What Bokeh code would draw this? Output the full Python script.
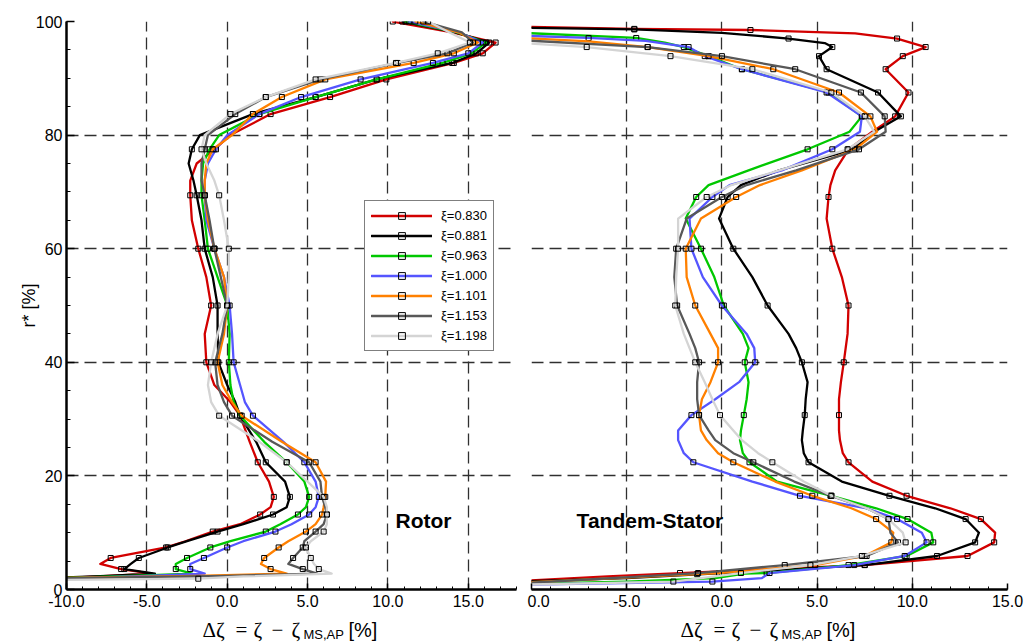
from bokeh.plotting import figure
from bokeh.layouts import row, column
from bokeh.models import FixedTicker, Label, Legend, LegendItem, Range1d
from bokeh.core.properties import value
from bokeh.embed import file_html
from bokeh.resources import INLINE

# ---------------- data ----------------
SERIES = ["ξ=0.830", "ξ=0.881", "ξ=0.963", "ξ=1.000", "ξ=1.101", "ξ=1.153", "ξ=1.198"]

# Rotor: common radial levels r* [%] and measured-point flags
ROT_R = [100, 98.1, 96.3, 94.4, 92.7, 89.8, 86.7, 83.7, 80, 77.5, 75, 72, 69.4, 65, 60, 55, 50, 45,
         40, 36, 33, 30.6, 26, 22.4, 19, 16.3, 14.5, 13.2, 11.5, 10.2, 8.5, 7.4, 5.55, 4.5, 3.6, 2.8]
ROT_M = [1, 0, 1, 1, 1, 1, 1, 1, 0, 1, 0, 0, 1, 0, 1, 0, 1, 0,
         1, 0, 0, 1, 0, 1, 0, 1, 0, 1, 0, 1, 0, 1, 1, 0, 1, 0]

rot_830 = [10.3, 14.0, 16.7, 15.9, 14.1, 9.9, 6.4, 2.7, 0.2, -0.8, -1.9, -2.3, -2.3, -2.2, -1.8, -1.3, -1.0, -1.4,
           -1.3, -0.8, 0.2, 0.8, 1.4, 1.9, 2.6, 2.9, 2.7, 2.05, 0.8, -0.9, -2.6, -3.8, -7.25, -7.9, -6.6, -4.7]
rot_881 = [10.9, 14.2, 16.3, 15.5, 14.0, 9.3, 5.5, 1.6, -1.7, -2.2, -2.4, -2.1, -1.9, -1.6, -1.4, -0.9, -0.6, -0.6,
           -0.55, 0.0, 0.5, 0.8, 1.8, 2.4, 3.6, 3.9, 3.7, 2.85, 1.0, -0.6, -2.5, -3.7, -5.5, -6.0, -6.4, -4.5]
rot_963 = [11.1, 14.3, 16.1, 15.2, 13.4, 9.3, 5.5, 2.0, -0.5, -1.1, -1.5, -1.6, -1.6, -1.4, -1.2, -0.6, 0.0, 0.15,
           0.1, 0.2, 0.4, 0.8, 2.3, 3.7, 4.8, 5.1, 4.9, 4.4, 3.3, 2.4, 0.2, -1.05, -2.5, -3.2, -3.2, -2.2]
rot_1000 = [11.3, 14.4, 15.9, 15.0, 12.8, 8.3, 4.6, 2.0, 0.0, -0.7, -1.2, -1.4, -1.4, -1.3, -0.8, -0.2, 0.15, 0.3,
            0.4, 0.8, 1.1, 1.6, 3.5, 4.8, 5.5, 5.7, 5.5, 5.1, 4.0, 3.0, 1.0, 0.0, -1.45, -2.3, -2.3, -1.4]
rot_1101 = [11.7, 14.4, 15.6, 14.1, 11.6, 6.1, 3.4, 1.6, 0.3, -0.9, -1.3, -1.4, -1.4, -1.2, -0.8, -0.2, 0.0, -0.2,
            -0.6, -0.3, 0.3, 0.9, 3.4, 5.5, 6.15, 6.1, 6.0, 5.9, 5.5, 4.9, 3.8, 3.2, 2.3, 2.1, 2.7, 3.7]
rot_1153 = [12.2, 14.6, 15.3, 13.7, 10.6, 5.8, 2.4, 0.5, -1.2, -1.4, -1.6, -1.6, -1.4, -1.1, -0.8, -0.4, 0.0, -0.3,
            -0.75, -0.6, -0.2, 0.3, 2.8, 5.1, 5.8, 5.9, 6.1, 6.2, 6.0, 5.5, 4.8, 4.7, 4.1, 3.8, 4.7, 5.6]
rot_1198 = [12.5, 13.8, 15.1, 13.1, 10.5, 5.5, 2.4, 0.2, -1.4, -1.6, -1.3, -0.8, -0.5, -0.2, 0.1, 0.1, 0.0, -0.6,
            -1.0, -1.2, -1.0, -0.5, 2.0, 3.7, 5.0, 6.0, 6.2, 6.2, 6.2, 6.0, 5.2, 4.9, 5.2, 5.4, 5.7, 6.5]
# hub end of each rotor curve: (r*, dzeta, measured)
rot_830_tail = [(2.3, -8.0, 0), (2.0, -10.5, 0)]
rot_881_tail = [(2.4, -7.5, 0), (2.1, -10.5, 0)]
rot_963_tail = [(2.4, -6.0, 0), (2.0, -10.5, 0)]
rot_1000_tail = [(2.4, -5.0, 0), (1.9, -10.5, 0)]
rot_1101_tail = [(2.4, -2.0, 0), (2.0, -10.5, 0)]
rot_1153_tail = [(2.4, 0.0, 0), (2.0, -10.5, 0)]
rot_1198_tail = [(2.3, 1.0, 0), (1.9, -1.8, 1), (1.7, -10.5, 0)]

# Tandem stator
ST_R = [95.5, 93.9, 91.6, 87.5, 83.3, 80.6, 77.5, 73.8, 71.2, 69.1, 65.3, 60, 55, 50, 45, 42.5, 40,
        36.5, 33.5, 30.7, 28, 26.3, 24, 22.4, 19, 16.5, 14.3, 12.4, 10, 8.3, 5.9, 4.3, 2.9]
ST_M = [1, 1, 1, 1, 1, 0, 1, 0, 0, 1, 0, 1, 0, 1, 0, 0, 1,
        0, 0, 1, 0, 0, 0, 1, 0, 1, 0, 1, 0, 1, 1, 1, 1]

st_830 = [10.7, 9.5, 8.6, 9.8, 9.1, 7.9, 6.65, 5.95, 5.7, 5.6, 5.5, 5.8, 6.3, 6.65, 6.6, 6.5, 6.4,
          6.25, 6.15, 6.15, 6.15, 6.2, 6.35, 6.65, 7.9, 9.7, 12.0, 13.6, 14.35, 14.3, 12.9, 7.5, -2.2]
st_881 = [5.8, 5.1, 5.5, 8.2, 9.4, 8.0, 6.9, 3.0, 1.0, 0.3, -0.15, 0.6, 1.6, 2.4, 3.5, 3.9, 4.2,
          4.5, 4.4, 4.35, 4.25, 4.2, 4.3, 4.55, 6.3, 8.8, 11.2, 12.8, 13.5, 13.3, 11.3, 7.5, 0.0]
st_963 = [-2.0, -0.7, 1.05, 5.6, 7.35, 6.7, 4.5, 1.4, -0.7, -1.35, -1.9, -1.1, -0.4, 0.1, 1.1, 1.4, 1.2,
          1.4, 1.3, 1.15, 1.0, 0.95, 1.1, 1.45, 2.9, 5.75, 8.1, 9.75, 11.0, 11.1, 9.7, 6.65, 2.35]
st_1000 = [-1.75, -0.9, 1.05, 5.5, 7.35, 7.25, 5.8, 3.15, 0.4, -0.5, -1.7, -1.6, -1.0, 0.0, 1.3, 1.7, 1.75,
           0.9, -0.35, -1.6, -2.3, -2.3, -2.0, -1.5, 1.6, 4.1, 7.6, 9.2, 10.5, 10.75, 9.6, 6.95, 2.5]
st_1101 = [-3.9, -0.7, 2.7, 6.15, 7.8, 8.15, 7.0, 4.2, 2.0, 0.75, -1.1, -1.9, -1.85, -1.4, -0.6, -0.2, -0.2,
           -0.6, -1.05, -1.2, -1.1, -0.8, -0.2, 0.6, 2.8, 4.75, 6.8, 8.1, 9.0, 8.9, 7.5, 4.9, -0.15]
st_1153 = [-3.9, 0.0, 3.85, 7.3, 8.55, 8.6, 7.2, 3.9, 1.3, 0.0, -1.85, -2.4, -2.5, -2.35, -1.7, -1.4, -1.2,
           -1.3, -1.3, -1.2, -0.7, -0.35, 0.6, 1.65, 3.8, 5.7, 7.6, 8.75, 8.85, 9.25, 7.6, 3.3, -1.25]
st_1198 = [-7.1, -2.7, 1.6, 5.75, 7.5, 8.0, 6.6, 3.0, 0.5, -0.8, -2.3, -2.3, -2.4, -2.45, -2.0, -1.7, -1.4,
           -0.9, -0.5, -0.1, 0.6, 1.05, 1.9, 2.65, 4.3, 5.75, 7.6, 8.75, 9.5, 9.65, 7.35, 4.65, 1.0]
# casing end (head) and hub end (tail) of each stator curve: (r*, dzeta, measured)
st_830_head = [(99.1, -10.5, 0), (98.7, -4.6, 1), (98.5, 1.5, 1), (97.9, 7.0, 0), (97.0, 9.2, 1)]
st_881_head = [(98.9, -10.5, 0), (98.6, -4.6, 1), (98.0, 0.0, 0), (97.0, 3.5, 1), (96.2, 5.4, 0)]
st_963_head = [(98.0, -10.5, 0), (97.1, -4.5, 1), (96.3, -3.0, 0)]
st_1000_head = [(97.5, -10.5, 0), (97.1, -7.0, 1), (96.6, -4.0, 0)]
st_1101_head = [(97.1, -10.5, 0), (96.5, -7.0, 0)]
st_1153_head = [(96.7, -10.5, 0)]
st_1198_head = [(96.2, -10.5, 0)]
st_830_tail = [(2.3, -6.0, 0), (1.5, -10.5, 0)]
st_881_tail = [(2.0, -5.0, 0), (1.4, -10.5, 0)]
st_963_tail = [(2.8, 1.2, 0), (2.0, -0.35, 0), (1.4, -5.0, 0), (1.0, -10.5, 0)]
st_1000_tail = [(2.0, 2.1, 0), (1.4, -0.5, 1), (0.85, -10.5, 0)]
st_1101_tail = [(2.7, -1.3, 1), (1.2, -10.5, 0)]
st_1153_tail = [(1.1, -10.5, 0)]
st_1198_tail = [(1.4, -2.55, 1), (0.85, -10.5, 0)]

ROT_X = [rot_830, rot_881, rot_963, rot_1000, rot_1101, rot_1153, rot_1198]
ROT_TAIL = [rot_830_tail, rot_881_tail, rot_963_tail, rot_1000_tail, rot_1101_tail, rot_1153_tail, rot_1198_tail]
ST_X = [st_830, st_881, st_963, st_1000, st_1101, st_1153, st_1198]
ST_HEAD = [st_830_head, st_881_head, st_963_head, st_1000_head, st_1101_head, st_1153_head, st_1198_head]
ST_TAIL = [st_830_tail, st_881_tail, st_963_tail, st_1000_tail, st_1101_tail, st_1153_tail, st_1198_tail]

X_TICKS = [-10, -5, 0, 5, 10, 15]
Y_TICKS = [0, 20, 40, 60, 80, 100]

# ---------------- style ----------------
COLORS = ["#d20000", "#000000", "#00c800", "#5555ff", "#ff8000", "#585858", "#d4d4d4"]
FONT = "Liberation Sans"
SERIF = "Liberation Serif"


def build(grid_r, grid_m, xs, head, tail):
    r = [h[0] for h in head] + list(grid_r) + [t[0] for t in tail]
    x = [h[1] for h in head] + list(xs) + [t[1] for t in tail]
    m = [h[2] for h in head] + list(grid_m) + [t[2] for t in tail]
    mx = [xi for xi, mi in zip(x, m) if mi]
    mr = [ri for ri, mi in zip(r, m) if mi]
    return x, r, mx, mr


def make_fig(width, x_end, left_border, right_border, show_y, first_label):
    p = figure(width=width, height=614, output_backend="svg", toolbar_location=None, title=None,
               x_range=Range1d(-10, x_end), y_range=Range1d(0, 100),
               y_axis_location="left" if show_y else None)
    p.min_border_left = left_border
    p.min_border_right = right_border
    p.min_border_top = 21
    p.min_border_bottom = 25
    p.outline_line_color = None
    p.background_fill_color = "white"
    p.border_fill_color = "white"

    xa = p.xaxis[0]
    xa.ticker = FixedTicker(ticks=X_TICKS, minor_ticks=list(range(-10, int(x_end) + 1)))
    overrides = {t: f"{t:.1f}" for t in X_TICKS}
    overrides[X_TICKS[0]] = first_label
    xa.major_label_overrides = overrides
    xa.axis_line_width = 2.5
    xa.axis_line_color = "black"
    xa.major_tick_in = 6
    xa.major_tick_out = 0
    xa.minor_tick_in = 3
    xa.minor_tick_out = 0
    xa.major_tick_line_width = 1.5
    xa.minor_tick_line_width = 1
    xa.major_label_text_font = FONT
    xa.major_label_text_font_size = "16px"
    xa.major_label_text_color = "black"
    xa.major_label_standoff = 5

    if show_y:
        ya = p.yaxis[0]
        ya.ticker = FixedTicker(ticks=Y_TICKS, minor_ticks=list(range(0, 101, 5)))
        ya.axis_line_width = 2.5
        ya.axis_line_color = "black"
        ya.major_tick_in = 8
        ya.major_tick_out = 0
        ya.minor_tick_in = 4
        ya.minor_tick_out = 0
        ya.major_tick_line_width = 1.5
        ya.minor_tick_line_width = 1
        ya.major_label_text_font = FONT
        ya.major_label_text_font_size = "16px"
        ya.major_label_text_color = "black"
        ya.major_label_standoff = 4
        ya.axis_label = "r* [%]"
        ya.axis_label_text_font = FONT
        ya.axis_label_text_font_size = "18px"
        ya.axis_label_text_font_style = "normal"
        ya.axis_label_text_color = "black"
        ya.axis_label_standoff = -6

    p.xgrid.ticker = FixedTicker(ticks=X_TICKS)
    p.ygrid.ticker = FixedTicker(ticks=Y_TICKS)
    for g in (p.xgrid[0], p.ygrid[0]):
        g.grid_line_color = "#303030"
        g.grid_line_width = 1.3
        g.grid_line_dash = "12 6"
    return p


def draw(p, grid_r, grid_m, xs_list, heads, tails):
    out = []
    for i, xs in enumerate(xs_list):
        x, r, mx, mr = build(grid_r, grid_m, xs, heads[i], tails[i])
        lr = p.line(x, r, line_color=COLORS[i], line_width=2.3, line_join="round", line_cap="round")
        sr = p.scatter(mx, mr, marker="square", size=5, fill_color=None,
                       line_color="black", line_width=1)
        out.append((lr, sr))
    return out


# left: rotor
p1 = make_fig(527, 18, 66, 11, True, "-10.0")
rend = draw(p1, ROT_R, ROT_M, ROT_X, [[]] * 7, ROT_TAIL)
legend = Legend(items=[LegendItem(label=SERIES[i], renderers=[rend[i][0], rend[i][1]]) for i in range(7)],
                location=(298, 238), margin=0, padding=6, spacing=3,
                glyph_width=61, glyph_height=17, label_height=17, label_standoff=9,
                label_text_font=FONT, label_text_font_size="13px", label_text_color="black",
                border_line_color="black", border_line_width=1,
                background_fill_color="white", background_fill_alpha=1.0)
p1.add_layout(legend)

# right: tandem stator
p2 = make_fig(500, 15, 4, 20, False, "0.0")
draw(p2, ST_R, ST_M, ST_X, ST_HEAD, ST_TAIL)

# panel titles (data units)
p1.add_layout(Label(x=10.47, y=12.1, text="Rotor", text_font=FONT, text_font_size="21px",
                    text_font_style="bold", text_baseline="alphabetic", text_color="black"))
p2.add_layout(Label(x=-7.63, y=12.1, text="Tandem-Stator", text_font=FONT, text_font_size="21px",
                    text_font_style="bold", text_baseline="alphabetic", text_color="black"))

# strip below both panels carrying the x-axis titles (pixel coordinates)
strip = figure(width=1027, height=30, output_backend="svg", toolbar_location=None, title=None,
               x_range=Range1d(0, 1027), y_range=Range1d(0, 30),
               x_axis_location=None, y_axis_location=None, min_border=0)
strip.outline_line_color = None
strip.xgrid.visible = False
strip.ygrid.visible = False
for x0 in (202, 680):
    strip.text(x=[x0, x0 + 33, x0 + 51, x0 + 69, x0 + 89], y=[15] * 5,
               text=["Δζ", "=", "ζ", "−", "ζ"],
               text_font=value(SERIF), text_font_size=value("21px"),
               text_baseline="middle", text_color="black")
    strip.text(x=[x0 + 101], y=[10], text=["MS,AP"], text_font=value(FONT),
               text_font_size=value("13px"), text_baseline="middle", text_color="black")
    strip.text(x=[x0 + 146], y=[15], text=["[%]"], text_font=value(FONT),
               text_font_size=value("20px"), text_baseline="middle", text_color="black")

layout = column(row(p1, p2), strip)
open("out.html", "w").write(file_html(layout, INLINE))
